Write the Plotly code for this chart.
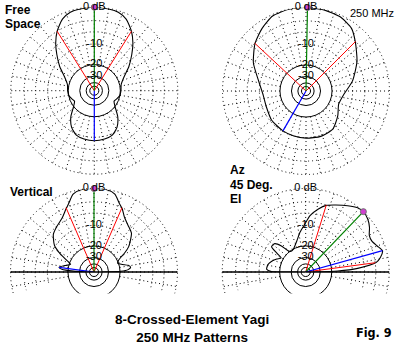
import numpy as np
import plotly.graph_objects as go

W, H = 400, 350
R = 83.5          # pixel radius of the 0 dB circle
RMAX = 1.012      # grid layer slightly larger so the 0 dB circle is drawn

# ARRL log grid
GRID_DOTTED_DB = [0, -3, -6, -10]
GRID_SOLID_DB = [-20, -30, -40, -50]
SPOKE_START_DB = -20
SPOKE_STEP_DEG = 10
SCALE_LABEL_DB = [0, -10, -20, -30]
SCALE_LABEL_TEXT = ["0 dB", "-10", "-20", "-30"]
HALF_POWER_DB = -3

# Free space pattern (degrees clockwise from boresight)
FS_THETA = [0, 10, 17, 24, 32, 39, 46, 55, 65, 77, 90, 100, 110, 118, 128, 138, 148, 158, 168, 180,
            192, 202, 212, 222, 232, 242, 250, 260, 270, 283, 295, 305, 314, 321, 328, 336, 343, 350, 360]
FS_DB = [0, -0.1, -0.3, -1.1, -3.0, -5.3, -8.1, -11.7, -16.0, -19.0, -19.6, -20.0, -21.5, -22.6, -19.7,
         -14.9, -11.4, -9.5, -9.0, -8.8, -9.0, -9.5, -11.4, -14.9, -19.7, -22.6, -21.5, -20.0, -19.6,
         -19.0, -16.0, -11.7, -8.1, -5.3, -3.0, -1.1, -0.3, -0.1, 0]
FS_MAX_DEG = 0
FS_HPBW_DEG = [32, 328]
FS_BACK_DEG, FS_BACK_DB = 180, -8.8

# Azimuth pattern (degrees clockwise from boresight)
AZ_THETA = [0, 13, 25, 36, 45, 60, 78, 95, 112, 128, 145, 162, 180, 195, 210, 230, 248, 266, 281,
            298, 313, 325, 336, 348, 360]
AZ_DB = [0, -0.1, -0.4, -1.3, -3.1, -6.0, -9.7, -13.5, -14.8, -12.5, -10.0, -9.6, -9.8, -10.0, -10.2,
         -10.6, -11.5, -11.3, -9.5, -5.8, -3.1, -1.5, -0.3, 0, 0]
AZ_MAX_DEG = 1
AZ_HPBW_DEG = [45, 313]
AZ_BACK_DEG, AZ_BACK_DB = 210, -10.2

# Vertical-pointing elevation pattern (elevation degrees)
VT_ELEV = [0, 1.5, 4, 7.5, 11, 15, 20, 25, 29, 32, 36, 41, 46, 54, 61, 66, 70, 75, 81, 90,
           99, 105, 110, 114, 121, 130, 137, 146, 152, 157, 162, 167, 172.5, 175, 177.5, 180]
VT_DB = [-40, -19.6, -15.3, -14.0, -15.0, -18.0, -20.5, -19.5, -17.0, -14.3, -11.5, -9.4, -7.5, -6.3,
         -4.9, -3.2, -2.2, -0.6, -0.05, 0, -0.05, -0.6, -2.2, -3.3, -5.0, -6.1, -7.0, -9.6, -13.5,
         -18.0, -21.0, -18.0, -14.8, -16.3, -24.0, -40]
VT_MAX_DEG = 90
VT_HPBW_DEG = [66.5, 113.5]
VT_BACK_DEG, VT_BACK_DB = 172.5, -14.8

# 45-degree elevation pattern (elevation degrees)
EL_ELEV = [0, 1.8, 4, 7.6, 11, 15.5, 20, 25, 30, 35, 40.5, 46.3, 51, 57.7, 65.8, 72.9, 78.6, 85.6,
           91, 98, 106, 118, 125, 129.5, 133, 137.5, 143.5, 147, 150, 156, 163, 169, 176, 179.4, 180]
EL_DB = [-40, -16.5, -8.1, -2.8, -1.6, -0.8, -1.6, -2.3, -2.2, -1.2, -0.4, 0, -0.2, -1.07, -2.2,
         -3.1, -4.5, -6.7, -9.5, -12.5, -16.3, -20.0, -20.5, -19.0, -14.6, -11.8, -11.6, -15.5,
         -18.5, -16.6, -14.5, -13.3, -13.0, -15.3, -40]
EL_MAX_DEG = 46.3
EL_HPBW_DEG = [7.6, 72.9]
EL_BACK_DEG, EL_BACK_DB = 15.5, -0.8

CAPTION_LINES = ["8-Crossed-Element Yagi", "250 MHz Patterns"]


def arrl(db):
    return (0.89 ** (-np.asarray(db, dtype=float) / 2.0)).tolist()


def domain(cx, cy, rad, bbox):
    x0, y0, x1, y1 = bbox
    return dict(x=[(cx + x0 * rad) / W, (cx + x1 * rad) / W],
                y=[1 - (cy - y0 * rad) / H, 1 - (cy - y1 * rad) / H])


DOT = "1px,3px"
panels = [
    dict(cx=94.3, cy=90.7, half=False, theta=FS_THETA, db=FS_DB, mx=FS_MAX_DEG,
         hp=FS_HPBW_DEG, bk=(FS_BACK_DEG, FS_BACK_DB)),
    dict(cx=306, cy=91, half=False, theta=AZ_THETA, db=AZ_DB, mx=AZ_MAX_DEG,
         hp=AZ_HPBW_DEG, bk=(AZ_BACK_DEG, AZ_BACK_DB)),
    dict(cx=94, cy=272, half=True, theta=VT_ELEV, db=VT_DB, mx=VT_MAX_DEG,
         hp=VT_HPBW_DEG, bk=(VT_BACK_DEG, VT_BACK_DB)),
    dict(cx=305.7, cy=272, half=True, theta=EL_ELEV, db=EL_DB, mx=EL_MAX_DEG,
         hp=EL_HPBW_DEG, bk=(EL_BACK_DEG, EL_BACK_DB)),
]

fig = go.Figure()
layout = {}
count = [0]


def new_polar(spec):
    count[0] += 1
    name = "polar" if count[0] == 1 else "polar%d" % count[0]
    layout[name] = spec
    fig.add_trace(go.Scatterpolar(r=[], theta=[], subplot=name, showlegend=False, hoverinfo="skip"))
    return name


OFF_ANG = dict(showline=False, showticklabels=False, ticks="", showgrid=False)

h = arrl(SPOKE_START_DB)
for p in panels:
    cx, cy, half = p["cx"], p["cy"], p["half"]
    if half:
        rot, direc, up = 0, "counterclockwise", 90
        g_sector, g_bbox = [-15, 195], (-1, -np.sin(np.radians(15)), 1, 1)
        d_sector, d_bbox = [0, 180], (-1, 0, 1, 1)
    else:
        rot, direc, up = 90, "clockwise", 0
        g_sector, g_bbox = [0, 360], (-1, -1, 1, 1)
        d_sector, d_bbox = [0, 360], (-1, -1, 1, 1)

    # dotted grid: 0/-3/-6/-10 dB circles and spokes
    new_polar(dict(
        domain=domain(cx, cy, R * RMAX, g_bbox), sector=g_sector, hole=h / RMAX,
        bgcolor="rgba(0,0,0,0)",
        radialaxis=dict(range=[h, RMAX], tickmode="array", tickvals=arrl(GRID_DOTTED_DB),
                        showgrid=True, gridcolor="black", griddash=DOT, gridwidth=1,
                        showline=False, showticklabels=False, ticks=""),
        angularaxis=dict(rotation=0, direction="counterclockwise", tickmode="linear", tick0=0,
                         dtick=SPOKE_STEP_DEG, showgrid=True, gridcolor="black", griddash=DOT,
                         gridwidth=1, showline=False, showticklabels=False, ticks=""),
    ))
    # solid inner circles
    inner = 0.33
    new_polar(dict(
        domain=domain(cx, cy, R * inner, (-1, -1, 1, 1)), bgcolor="rgba(0,0,0,0)",
        radialaxis=dict(range=[0, inner], tickmode="array", tickvals=arrl(GRID_SOLID_DB),
                        showgrid=True, gridcolor="black", gridwidth=1,
                        showline=False, showticklabels=False, ticks=""),
        angularaxis=dict(OFF_ANG),
    ))
    # data layer
    dname = new_polar(dict(
        domain=domain(cx, cy, R, d_bbox), sector=d_sector, bgcolor="rgba(0,0,0,0)",
        radialaxis=dict(range=[0, 1], showgrid=False, showticklabels=False, ticks="",
                        showline=half, linecolor="black", linewidth=1.6, angle=0),
        angularaxis=dict(OFF_ANG, rotation=rot, direction=direc),
    ))
    if half:
        new_polar(dict(
            domain=domain(cx, cy, R, d_bbox), sector=d_sector, bgcolor="rgba(0,0,0,0)",
            radialaxis=dict(range=[0, 1], showgrid=False, showticklabels=False, ticks="",
                            showline=True, linecolor="black", linewidth=1.6, angle=180),
            angularaxis=dict(OFF_ANG, rotation=rot, direction=direc),
        ))

    common = dict(subplot=dname, showlegend=False, hoverinfo="skip", cliponaxis=False)
    fig.add_trace(go.Scatterpolar(r=arrl(p["db"]), theta=p["theta"], mode="lines",
                                  line=dict(color="black", width=1.1, shape="spline", smoothing=0.6),
                                  **common))
    rh = arrl(HALF_POWER_DB)
    fig.add_trace(go.Scatterpolar(r=[0, rh, None, 0, rh],
                                  theta=[p["hp"][0], p["hp"][0], None, p["hp"][1], p["hp"][1]],
                                  mode="lines", line=dict(color="#ff0000", width=1), **common))
    fig.add_trace(go.Scatterpolar(r=[0, 1], theta=[p["mx"], p["mx"]], mode="lines",
                                  line=dict(color="#008000", width=1.2), **common))
    fig.add_trace(go.Scatterpolar(r=[0, arrl(p["bk"][1])], theta=[p["bk"][0], p["bk"][0]],
                                  mode="lines", line=dict(color="#0000ff", width=1.2), **common))
    fig.add_trace(go.Scatterpolar(r=[1], theta=[p["mx"]], mode="markers",
                                  marker=dict(size=6, color="#d040d0",
                                              line=dict(color="#707070", width=1)), **common))
    fig.add_trace(go.Scatterpolar(r=arrl(SCALE_LABEL_DB), theta=[up] * len(SCALE_LABEL_DB),
                                  mode="text", text=SCALE_LABEL_TEXT, textposition="middle center",
                                  textfont=dict(family="Liberation Sans, Arial, sans-serif",
                                                size=11, color="black"), **common))

SANS = "Liberation Sans, Arial, sans-serif"
NARROW = "Liberation Sans Narrow, Arial Narrow, DejaVu Sans Condensed, sans-serif"


def ann(text, x, y, size, bold=True, xanchor="left", family=SANS):
    return dict(text=text, x=x / W, y=1 - y / H, xref="paper", yref="paper",
                xanchor=xanchor, yanchor="middle", showarrow=False, align="center",
                font=dict(family=family, size=size, color="black",
                          weight="bold" if bold else "normal"))


annotations = [
    ann("Free", 3, 10, 12),
    ann("Space", 3, 24, 12),
    ann("250 MHz", 372, 13, 11, bold=False, xanchor="center"),
    ann("Vertical", 8, 192, 12),
    ann("Az", 228, 170.5, 12),
    ann("45 Deg.", 228, 185, 12),
    ann("El", 228, 198.5, 12),
    ann("<br>".join(CAPTION_LINES), 192, 328.5, 13.5, xanchor="center", family=SANS),
    ann("Fig. 9", 374, 332, 12.5, xanchor="center", family=NARROW),
]

fig.update_layout(
    width=W, height=H, autosize=False,
    margin=dict(l=0, r=0, t=0, b=0, pad=0),
    paper_bgcolor="white", plot_bgcolor="white",
    showlegend=False,
    annotations=annotations,
    shapes=[dict(type="rect", xref="paper", yref="paper", x0=0, x1=1, y0=0,
                 y1=1 - 293.5 / H, fillcolor="white", line=dict(width=0), layer="above")],
    **layout,
)

fig.write_html("out.html")
